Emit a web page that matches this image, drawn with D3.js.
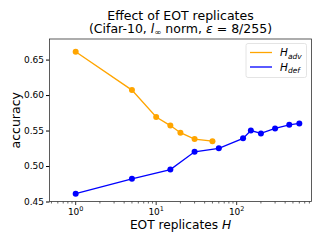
<!DOCTYPE html>
<html>
<head>
<meta charset="utf-8">
<script src="https://cdn.jsdelivr.net/npm/d3@7"></script>
<style>
  body { margin: 0; background: #fff; }
  text { font-family: "DejaVu Sans", sans-serif; fill: #000; }
</style>
</head>
<body>
<script>
var advH = [1, 5, 10, 15, 20, 30, 50],
    advAcc = [0.661, 0.607, 0.569, 0.557, 0.547, 0.538, 0.535];
var defH = [1, 5, 15, 30, 60, 120, 150, 200, 300, 450, 600],
    defAcc = [0.461, 0.482, 0.495, 0.520, 0.525, 0.539, 0.550, 0.546, 0.553, 0.558, 0.560];
var yTicks = [0.45, 0.50, 0.55, 0.60, 0.65],
    xTicks = [1, 10, 100];

var W = 324, H = 243,
    pL = 49.5, pR = 311.5, pT = 39, pB = 201.5;

var svg = d3.select("body").append("svg")
    .attr("width", W)
    .attr("height", H);

var x = d3.scaleLog().domain([0.473, 850]).range([pL, pR]),
    y = d3.scaleLinear().domain([0.45, 0.679]).range([pB, pT]);

// minor ticks on log axis
var minor = [];
[0.1, 1, 10, 100].forEach(function(d) {
  for (var k = 2; k <= 9; k++) {
    var v = d * k;
    if (v >= x.domain()[0] && v <= x.domain()[1]) minor.push(v);
  }
});

var xAxis = svg.append("g")
    .attr("transform", "translate(0," + pB + ")");
xAxis.selectAll("line.minor")
    .data(minor)
  .enter().append("line")
    .attr("x1", function(d) { return x(d); })
    .attr("x2", function(d) { return x(d); })
    .attr("y1", 0).attr("y2", 2)
    .attr("stroke", "#000").attr("stroke-width", 0.6);
xAxis.selectAll("line.major")
    .data(xTicks)
  .enter().append("line")
    .attr("x1", function(d) { return x(d); })
    .attr("x2", function(d) { return x(d); })
    .attr("y1", 0).attr("y2", 3.5)
    .attr("stroke", "#000").attr("stroke-width", 0.8);
var xl = xAxis.selectAll("text.tl")
    .data(xTicks)
  .enter().append("text")
    .attr("x", function(d) { return x(d); })
    .attr("y", 13.5)
    .attr("text-anchor", "middle")
    .style("font-size", "9px");
xl.append("tspan").text("10");
xl.append("tspan")
    .attr("dy", -4)
    .style("font-size", "6.5px")
    .text(function(d) { return Math.round(Math.log10(d)); });

var yAxis = svg.append("g")
    .attr("transform", "translate(" + pL + ",0)")
    .call(d3.axisLeft(y).tickValues(yTicks).tickSize(3.5).tickPadding(2)
      .tickFormat(d3.format(".2f")));
yAxis.select(".domain").remove();
yAxis.selectAll("text").style("font-size", "9px").style("font-family", "DejaVu Sans");

// frame
svg.append("rect")
    .attr("x", pL).attr("y", pT)
    .attr("width", pR - pL).attr("height", pB - pT)
    .attr("fill", "none").attr("stroke", "#333").attr("stroke-width", 0.8);

var line = d3.line()
    .x(function(d) { return x(d[0]); })
    .y(function(d) { return y(d[1]); });

function series(hs, accs, color) {
  var pts = d3.zip(hs, accs);
  svg.append("path")
      .datum(pts)
      .attr("d", line)
      .attr("fill", "none")
      .attr("stroke", color)
      .attr("stroke-width", 1.3);
  svg.append("g").selectAll("circle")
      .data(pts)
    .enter().append("circle")
      .attr("cx", function(d) { return x(d[0]); })
      .attr("cy", function(d) { return y(d[1]); })
      .attr("r", 3)
      .attr("fill", color);
}
series(advH, advAcc, "orange");
series(defH, defAcc, "blue");

// titles
svg.append("text")
    .attr("x", (pL + pR) / 2).attr("y", 19.5)
    .attr("text-anchor", "middle")
    .style("font-size", "12.5px")
    .text("Effect of EOT replicates");
var t2 = svg.append("text")
    .attr("x", (pL + pR) / 2).attr("y", 33)
    .attr("text-anchor", "middle")
    .style("font-size", "12.5px");
t2.append("tspan").text("(Cifar-10, ");
t2.append("tspan").style("font-style", "italic").text("l");
t2.append("tspan").attr("dy", 2).style("font-size", "8.5px").text("\u221e");
t2.append("tspan").attr("dy", -2).text(" norm, ");
t2.append("tspan").style("font-style", "italic").text("\u03b5");
t2.append("tspan").text(" = 8/255)");

var xlab = svg.append("text")
    .attr("x", (pL + pR) / 2).attr("y", 228.5)
    .attr("text-anchor", "middle")
    .style("font-size", "12.2px");
xlab.append("tspan").text("EOT replicates ");
xlab.append("tspan").style("font-style", "italic").text("H");

svg.append("text")
    .attr("transform", "translate(20," + (pT + pB) / 2 + ")rotate(-90)")
    .attr("text-anchor", "middle")
    .style("font-size", "12.5px")
    .text("accuracy");

// legend
var lg = svg.append("g").attr("transform", "translate(246,43.5)");
lg.append("rect")
    .attr("width", 60.5).attr("height", 34).attr("rx", 2)
    .attr("fill", "#fff").attr("stroke", "#ddd").attr("stroke-width", 0.8);
var entries = [["adv", "orange"], ["def", "blue"]];
entries.forEach(function(e, i) {
  var yy = 9 + i * 14.5;
  lg.append("line")
      .attr("x1", 4).attr("x2", 26)
      .attr("y1", yy).attr("y2", yy)
      .attr("stroke", e[1]).attr("stroke-width", 1.3);
  var tx = lg.append("text")
      .attr("x", 34).attr("y", yy + 3.5)
      .style("font-size", "10.5px")
      .style("font-style", "italic");
  tx.append("tspan").text("H");
  tx.append("tspan").attr("dy", 2.5).style("font-size", "7.5px").text(e[0]);
});
</script>
</body>
</html>
